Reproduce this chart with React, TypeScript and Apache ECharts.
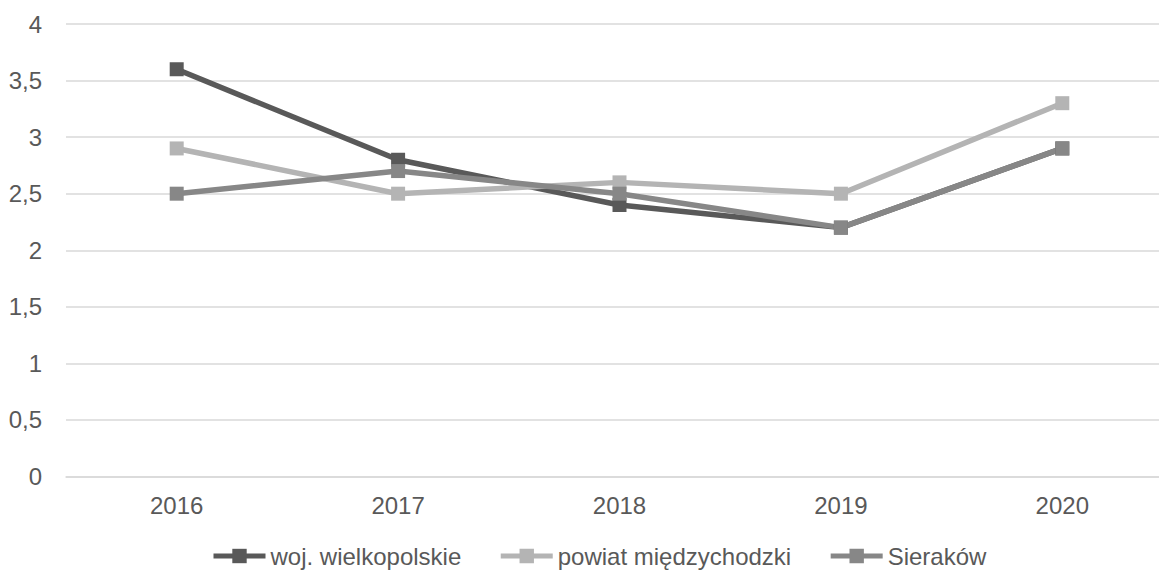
import React, { useEffect, useRef } from "react";
import * as echarts from "echarts";

const categories = ["2016", "2017", "2018", "2019", "2020"];
const seriesNames = ["woj. wielkopolskie", "powiat międzychodzki", "Sieraków"];
const wojValues = [3.6, 2.8, 2.4, 2.2, 2.9];
const powiatValues = [2.9, 2.5, 2.6, 2.5, 3.3];
const sierakowValues = [2.5, 2.7, 2.5, 2.2, 2.9];
const seriesColors = ["#595959", "#b4b4b4", "#878787"];

export default function App() {
  const ref = useRef<HTMLDivElement>(null);
  useEffect(() => {
    if (!ref.current) return;
    const chart = echarts.init(ref.current, undefined, { renderer: "svg" });
    const data = [wojValues, powiatValues, sierakowValues];
    chart.setOption({
      animation: false,
      textStyle: { fontFamily: "Liberation Sans, Arial, sans-serif" },
      grid: { left: 66, right: 7, top: 24, bottom: 95.5, containLabel: false },
      legend: {
        top: 539,
        left: 206,
        itemWidth: 52,
        itemHeight: 18,
        itemGap: 37,
        lineStyle: { width: 5 },
        textStyle: { fontSize: 24, color: "#595959", fontFamily: "Liberation Sans, Arial, sans-serif" },
        data: seriesNames,
      },
      xAxis: {
        type: "category",
        data: categories,
        boundaryGap: true,
        axisLine: { show: true, lineStyle: { color: "#d9d9d9", width: 1.5 } },
        axisTick: { show: false },
        axisLabel: { fontSize: 24, color: "#595959", margin: 17 },
      },
      yAxis: {
        type: "value",
        min: 0,
        max: 4,
        interval: 0.5,
        axisLine: { show: false },
        axisTick: { show: false },
        splitLine: { lineStyle: { color: "#d9d9d9", width: 1.5 } },
        axisLabel: {
          fontSize: 24,
          color: "#595959",
          margin: 24,
          formatter: (v: number) => String(v).replace(".", ","),
        },
      },
      series: seriesNames.map((name, i) => ({
        name,
        type: "line",
        data: data[i],
        symbol: "rect",
        symbolSize: 14,
        lineStyle: { color: seriesColors[i], width: 5.5 },
        itemStyle: { color: seriesColors[i] },
      })),
    });
    return () => chart.dispose();
  }, []);
  return (
    <div style={{ position: "fixed", left: 0, top: 0, width: 1159, height: 572, overflow: "hidden", background: "#fff" }}>
      <div ref={ref} style={{ width: 1180, height: 572 }} />
    </div>
  );
}
